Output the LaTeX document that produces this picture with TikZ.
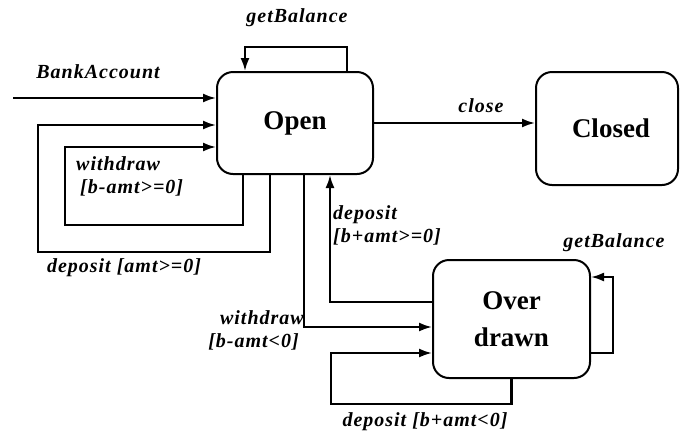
\documentclass[tikz,border=0pt]{standalone}
\usepackage{fontspec}
\setmainfont{Liberation Serif}
\newfontfamily\trigfont[LetterSpace=5]{Liberation Serif}
\usetikzlibrary{arrows.meta}

\tikzset{
  state/.style={draw, line width=2pt, rounded corners=16pt, fill=white, inner sep=0pt,
    font=\fontsize{27}{37}\selectfont\bfseries, align=center},
  flow/.style={line width=2.1pt, -{Latex[length=13pt,width=9pt]}},
  trig/.style={inner sep=0pt, font=\trigfont\fontsize{20}{23}\selectfont\bfseries\itshape}
}

\begin{document}
\begin{tikzpicture}[x=1pt,y=-1pt]
    \useasboundingbox (0,0) rectangle (680,432);
    \node[state, minimum width=156pt, minimum height=102pt] (open) at (295,123) {Open};
    \node[state, minimum width=142pt, minimum height=113pt] (closed) at (607,128.5) {\hspace*{8pt}Closed};
    \node[state, minimum width=157pt, minimum height=118pt] (over) at (511.5,319) {Over\\drawn};

    \coordinate (start) at (13,98);
    \coordinate (amtloop) at (38,252);
    \coordinate (wdloop) at (65,225);
    \coordinate (gbtop) at (245,47);
    \coordinate (odloop) at (331,404);
    \coordinate (gbside) at (613,277);

    \draw[flow] (start) -- (start -| open.west);
    \draw[flow] ([xshift=-25pt]open.south) |- (amtloop) |- ([yshift=-2pt]open.west);
    \draw[flow] ([xshift=-52pt]open.south) |- (wdloop) |- ([yshift=-24pt]open.west);
    \draw[flow] ([xshift=52pt]open.north) |- (gbtop) -- (gbtop |- open.north);
    \draw[flow] (open.east) -- (open.east -| closed.west);
    \draw[flow] ([xshift=9pt]open.south) |- ([yshift=-8pt]over.west);
    \draw[flow] ([yshift=17pt]over.west) -| ([xshift=35pt]open.south);
    \draw[flow] (over.south) |- (odloop) |- ([yshift=-34pt]over.west);
    \draw[flow] ([yshift=-34pt]over.east) -| (gbside) -- (gbside -| over.east);

    \node[trig] (gb1) at (297,18) {getBalance};
    \node[trig] (init) at (98,72) {BankAccount};
    \node[trig, anchor=west, align=left] (wd1) at (76,176) {withdraw\\\hspace*{4pt}[b-amt>=0]};
    \node[trig] (dep1) at (124,268) {deposit [amt>=0]};
    \node[trig] (cls) at (481,106) {close};
    \node[trig, anchor=west, align=left] (dep2) at (333,225) {deposit\\{}[b+amt>=0]};
    \node[trig] (gb2) at (614,243) {getBalance};
    \node[trig, anchor=east, align=right] (wd2) at (304,330) {withdraw\\{}[b-amt<0]\hspace*{5pt}};
    \node[trig] (dep3) at (425,422) {deposit [b+amt<0]};
\end{tikzpicture}
\end{document}
